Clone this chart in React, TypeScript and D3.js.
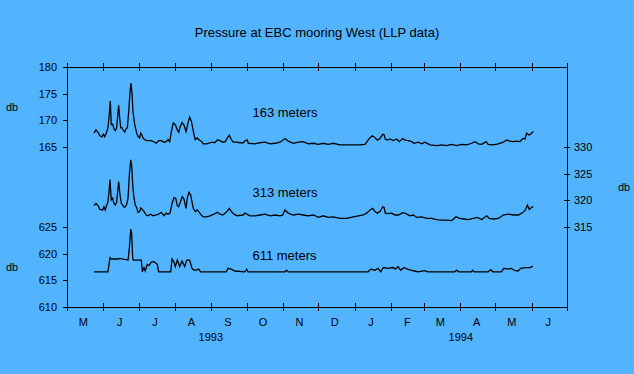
import { useEffect, useRef } from "react";
import * as d3 from "d3";

// time axis runs from 1 May 1993 to 1 Jul 1994; series x values are days since 1 May 1993
const startDate = new Date(1993, 4, 1);
const endDate = new Date(1994, 6, 1);

const title = "Pressure at EBC mooring West (LLP data)";
const seriesNames = ["163 meters", "313 meters", "611 meters"];

const leftTicksUpper = [165, 170, 175, 180];
const leftTicksLower = [610, 615, 620, 625];
const rightTicks = [315, 320, 325, 330];

// [day, db]
const series163: [number, number][] = [
  [23.0, 167.6], [24.7, 168.2], [26.4, 167.75], [28.1, 167.1], [29.8, 166.9], [30.9, 167.4], [32.1, 166.9],
  [33.5, 167.6], [34.9, 168.6], [36.0, 171.1], [36.9, 173.6], [37.7, 169.2], [38.9, 169.3], [40.0, 168.4],
  [41.2, 168.1], [42.3, 168.6], [43.2, 170.8], [44.0, 172.8], [44.9, 170.4], [45.8, 168.6], [46.9, 168.6],
  [48.0, 168.1], [49.2, 167.8], [50.3, 168.4], [51.4, 168.6], [52.6, 171.7], [53.7, 175.4], [54.5, 177.0],
  [55.4, 175.1], [56.2, 171.7], [57.7, 169.2], [59.4, 167.6], [60.5, 167.0], [61.9, 166.7], [62.8, 167.6],
  [63.9, 167.2], [65.0, 166.6], [66.7, 166.3], [69.0, 166.2], [71.8, 166.2], [74.7, 165.9], [76.1, 165.7],
  [78.1, 166.2], [80.3, 166.2], [82.6, 165.9], [84.6, 166.0], [86.1, 166.4], [87.5, 166.0], [88.9, 167.9],
  [90.6, 169.5], [92.3, 169.2], [94.0, 168.2], [95.2, 167.8], [96.3, 168.7], [98.0, 169.6], [99.7, 169.1],
  [101.4, 167.9], [103.1, 169.5], [104.5, 170.6], [105.9, 169.9], [107.1, 168.6], [108.2, 167.3], [109.3, 166.4],
  [111.0, 166.7], [112.7, 166.3], [114.4, 166.1], [116.1, 165.6], [119.0, 165.6], [121.6, 165.75], [123.5, 165.9],
  [125.8, 165.8], [128.1, 166.3], [130.4, 166.2], [132.7, 165.9], [134.9, 166.0], [136.6, 166.7], [138.3, 167.2],
  [140.0, 166.4], [141.7, 165.9], [144.6, 165.9], [147.4, 165.8], [150.2, 165.8], [151.9, 166.2], [153.6, 166.3],
  [154.5, 165.7], [160.2, 165.6], [164.4, 165.8], [168.7, 165.9], [173.0, 165.6], [177.2, 165.7], [181.5, 165.9],
  [185.8, 166.6], [188.5, 166.1], [192.8, 165.7], [197.1, 165.9], [201.3, 166.0], [205.6, 165.6], [209.9, 165.7],
  [214.1, 165.5], [218.4, 165.7], [222.6, 165.5], [226.9, 165.7], [232.6, 165.4], [238.3, 165.4], [245.4, 165.4],
  [249.6, 165.4], [253.9, 165.5], [255.9, 166.1], [258.2, 166.75], [260.1, 167.1], [262.4, 166.75], [264.4, 166.3],
  [266.7, 166.6], [269.0, 167.4], [270.1, 167.3], [271.2, 166.5], [272.9, 166.3], [275.2, 166.5], [278.0, 166.2],
  [280.9, 166.5], [283.1, 166.0], [286.0, 166.6], [288.0, 166.3], [290.8, 166.2], [293.7, 166.0], [295.6, 165.7],
  [299.3, 165.9], [302.2, 165.6], [305.0, 165.9], [309.3, 165.4], [315.0, 165.25], [319.3, 165.4], [323.5, 165.25],
  [327.8, 165.5], [332.0, 165.25], [336.3, 165.5], [340.6, 165.4], [344.8, 165.7], [347.6, 166.0], [350.4, 165.6],
  [353.3, 165.5], [357.0, 166.0], [358.9, 165.5], [363.2, 165.4], [367.5, 165.6], [371.7, 165.9], [374.6, 166.3],
  [377.4, 166.1], [380.3, 166.0], [383.1, 166.1], [385.9, 166.0], [388.3, 166.6], [390.2, 166.5], [391.6, 167.6],
  [393.4, 167.25], [395.1, 167.4], [397.3, 167.9],
];

const series313: [number, number][] = [
  [23.0, 319.0], [24.7, 319.4], [26.4, 319.0], [28.1, 318.3], [30.4, 318.2], [31.5, 318.8], [32.6, 318.2],
  [33.8, 319.1], [34.9, 319.7], [35.8, 321.6], [36.6, 323.9], [37.7, 320.1], [38.9, 320.4], [40.0, 319.4],
  [41.2, 319.1], [42.3, 319.7], [43.2, 321.6], [44.0, 323.5], [45.2, 321.0], [46.3, 319.4], [47.5, 319.1],
  [48.6, 318.7], [49.7, 318.8], [50.9, 319.3], [52.0, 320.4], [53.1, 324.75], [54.3, 327.6], [55.1, 326.6],
  [56.0, 322.9], [57.1, 320.4], [58.2, 319.1], [59.4, 318.6], [60.5, 317.75], [61.9, 317.9], [62.8, 318.6],
  [63.9, 318.4], [65.6, 317.9], [67.6, 317.25], [69.0, 317.1], [71.3, 317.4], [73.3, 317.1], [76.1, 317.25],
  [78.1, 317.4], [80.3, 317.75], [82.6, 317.1], [84.6, 317.6], [86.1, 317.4], [87.8, 317.6], [89.5, 319.4],
  [91.2, 320.5], [92.6, 320.4], [94.0, 319.0], [95.2, 318.8], [96.9, 319.9], [98.2, 320.7], [99.7, 320.25],
  [101.4, 318.5], [102.5, 320.4], [103.9, 321.5], [105.4, 321.0], [106.5, 319.7], [107.6, 318.5], [109.3, 317.9],
  [111.0, 318.2], [112.7, 317.75], [114.4, 317.25], [116.1, 316.9], [119.0, 316.9], [121.8, 317.1], [125.2, 317.4],
  [128.1, 317.75], [130.4, 317.4], [132.7, 317.25], [134.9, 317.6], [136.6, 318.0], [138.3, 318.5], [140.0, 317.9],
  [142.3, 317.4], [145.1, 317.1], [147.4, 317.2], [150.2, 317.25], [151.6, 317.6], [155.9, 317.1], [160.2, 317.1],
  [164.4, 317.25], [168.7, 317.4], [173.0, 317.1], [177.2, 317.25], [181.5, 317.1], [183.8, 317.25], [185.7, 318.2],
  [188.5, 317.6], [192.8, 317.25], [197.1, 317.4], [201.3, 317.25], [205.6, 317.1], [209.9, 317.25], [214.1, 316.8],
  [218.4, 317.1], [222.6, 316.8], [226.9, 316.9], [232.6, 316.6], [238.3, 316.6], [243.9, 316.9], [248.2, 317.1],
  [252.5, 317.25], [255.3, 317.6], [258.2, 318.2], [260.5, 318.5], [262.4, 317.9], [264.4, 317.6], [266.7, 317.9],
  [269.0, 318.8], [270.1, 318.7], [271.2, 317.6], [273.8, 317.5], [276.6, 317.6], [279.5, 317.25], [282.3, 317.25],
  [286.0, 317.7], [288.8, 317.5], [292.2, 317.1], [295.1, 317.25], [297.9, 316.8], [302.2, 316.9], [306.5, 316.6],
  [310.7, 316.6], [315.0, 316.4], [319.3, 316.3], [323.5, 316.3], [327.8, 316.2], [331.4, 316.9], [334.8, 316.6],
  [338.2, 316.5], [341.9, 316.4], [346.2, 316.6], [349.6, 316.8], [353.3, 316.4], [357.6, 317.1], [359.8, 316.6],
  [363.8, 316.5], [367.5, 316.6], [371.7, 317.25], [376.0, 317.4], [380.3, 317.25], [384.5, 317.25], [388.3, 317.7],
  [390.5, 318.2], [392.2, 319.1], [393.9, 318.3], [395.9, 318.7], [397.3, 318.8],
];

const series611: [number, number][] = [
  [23.0, 616.6], [34.9, 616.6], [36.6, 619.25], [37.7, 619.0], [43.5, 619.0], [44.9, 619.1], [52.0, 618.8],
  [53.1, 621.0], [54.3, 624.6], [55.1, 623.8], [56.0, 619.1], [56.5, 618.8], [63.3, 618.8], [64.2, 616.6],
  [65.6, 617.4], [66.7, 616.75], [68.4, 618.0], [69.9, 617.75], [71.8, 618.4], [74.1, 618.5], [76.9, 618.0],
  [78.1, 616.6], [88.4, 616.6], [89.5, 619.0], [91.2, 618.4], [92.3, 617.6], [94.0, 618.8], [96.0, 617.6],
  [98.0, 618.6], [100.3, 617.6], [102.0, 618.8], [104.5, 618.8], [106.5, 617.25], [108.2, 616.9], [110.2, 616.9],
  [112.2, 617.1], [113.9, 616.6], [135.7, 616.6], [137.2, 617.25], [140.0, 617.1], [142.9, 616.75], [151.4, 616.6],
  [153.1, 617.1], [154.2, 616.6], [185.5, 616.6], [187.2, 616.9], [188.3, 616.6], [256.5, 616.6], [258.8, 617.1],
  [262.2, 616.9], [265.0, 617.25], [267.3, 616.6], [269.5, 617.4], [273.5, 617.25], [277.8, 617.4], [279.7, 617.1],
  [282.0, 617.6], [284.3, 616.9], [287.1, 617.4], [289.9, 617.1], [292.8, 616.9], [296.2, 616.75], [299.1, 616.6],
  [304.8, 616.8], [307.6, 616.6], [330.3, 616.6], [332.0, 616.9], [333.7, 616.6], [344.5, 616.6], [345.7, 616.9],
  [346.8, 616.6], [358.7, 616.6], [361.0, 617.0], [362.9, 616.6], [370.0, 616.6], [372.3, 617.25], [375.1, 617.1],
  [378.5, 617.25], [382.0, 616.8], [384.3, 616.75], [386.6, 617.25], [390.5, 617.4], [394.2, 617.4], [397.0, 617.6],
];

const App = () => {
  const svgRef = useRef<SVGSVGElement>(null);

  useEffect(() => {
    const svg = d3.select(svgRef.current);
    svg.selectAll("*").remove();

    const width = 634;
    const height = 374;
    const margin = { top: 67, right: 67, bottom: 67, left: 67 };
    const band = (height - margin.top - margin.bottom) / 3;
    const font = "'Liberation Sans', Arial, sans-serif";
    const bottom = height - margin.bottom;

    svg.append("rect").attr("width", width).attr("height", height).attr("fill", "#52b4ff");

    const x = d3.scaleTime().domain([startDate, endDate]).range([margin.left, width - margin.right]);
    const toDate = (d: number) => new Date(startDate.getTime() + d * 864e5);

    // three stacked bands sharing the same db-per-pixel
    const y163 = d3.scaleLinear().domain([165, 180]).range([margin.top + band, margin.top]);
    const y313 = d3.scaleLinear().domain([315, 330]).range([margin.top + 2 * band, margin.top + band]);
    const y611 = d3.scaleLinear().domain([610, 625]).range([bottom, margin.top + 2 * band]);

    // frame
    svg
      .append("rect")
      .attr("x", margin.left + 0.5)
      .attr("y", margin.top + 0.5)
      .attr("width", width - margin.left - margin.right)
      .attr("height", bottom - margin.top)
      .attr("fill", "none")
      .attr("stroke", "#000")
      .attr("shape-rendering", "crispEdges");

    const styleAxis = (g: any) => {
      g.select(".domain").remove();
      g.attr("font-family", font).attr("font-size", 11).attr("shape-rendering", "crispEdges");
      g.selectAll(".tick line").attr("stroke", "#000");
      g.selectAll(".tick text").attr("fill", "#000");
    };

    // month ticks, top and bottom, crossing the frame
    const months = d3.timeMonth.range(startDate, d3.timeDay.offset(endDate, 1));
    svg
      .append("g")
      .attr("transform", `translate(0,${bottom})`)
      .call(d3.axisBottom(x).tickValues(months).tickSize(4).tickSizeOuter(0).tickFormat(() => ""))
      .call(styleAxis)
      .call((g) => g.selectAll(".tick line").attr("y1", -4));
    svg
      .append("g")
      .attr("transform", `translate(0,${margin.top})`)
      .call(d3.axisTop(x).tickValues(months).tickSize(4).tickSizeOuter(0).tickFormat(() => ""))
      .call(styleAxis)
      .call((g) => g.selectAll(".tick line").attr("y1", 4));

    // month letters at mid-month
    const mids = d3.timeMonth.range(startDate, endDate).map((m) => d3.timeDay.offset(m, 14));
    svg
      .append("g")
      .selectAll("text")
      .data(mids)
      .join("text")
      .attr("x", (d) => x(d))
      .attr("y", bottom + 19)
      .attr("text-anchor", "middle")
      .attr("font-family", font)
      .attr("font-size", 11)
      .text((d) => d3.timeFormat("%b")(d)[0]);

    // year labels centred on their span of the axis
    const newYear = new Date(1994, 0, 1);
    const years = [
      { label: "1993", from: startDate, to: newYear },
      { label: "1994", from: newYear, to: endDate },
    ];
    svg
      .append("g")
      .selectAll("text")
      .data(years)
      .join("text")
      .attr("x", (d) => (x(d.from) + x(d.to)) / 2)
      .attr("y", bottom + 34)
      .attr("text-anchor", "middle")
      .attr("font-family", font)
      .attr("font-size", 11)
      .text((d) => d.label);

    // left axis: upper and lower scales
    svg
      .append("g")
      .attr("transform", `translate(${margin.left},0)`)
      .call(d3.axisLeft(y163).tickValues(leftTicksUpper).tickSize(4).tickPadding(6))
      .call(styleAxis);
    svg
      .append("g")
      .attr("transform", `translate(${margin.left},0)`)
      .call(d3.axisLeft(y611).tickValues(leftTicksLower).tickSize(4).tickPadding(6))
      .call(styleAxis);

    // right axis for the middle series
    svg
      .append("g")
      .attr("transform", `translate(${width - margin.right},0)`)
      .call(d3.axisRight(y313).tickValues(rightTicks).tickSize(3).tickPadding(4))
      .call(styleAxis)
      .call((g) => g.selectAll(".tick line").attr("x1", -3));

    // unit labels
    const units = [
      { x: 6, y: (y163(170) + y163(175)) / 2 },
      { x: 6, y: (y611(615) + y611(620)) / 2 },
      { x: 618, y: (y313(320) + y313(325)) / 2 },
    ];
    svg
      .append("g")
      .selectAll("text")
      .data(units)
      .join("text")
      .attr("x", (d) => d.x)
      .attr("y", (d) => d.y)
      .attr("dy", "0.35em")
      .attr("font-family", font)
      .attr("font-size", 11)
      .text("db");

    // series lines
    const series = [
      { data: series163, y: y163 },
      { data: series313, y: y313 },
      { data: series611, y: y611 },
    ];
    series.forEach((s) => {
      const line = d3
        .line<[number, number]>()
        .x((d) => x(toDate(d[0])))
        .y((d) => s.y(d[1]));
      svg
        .append("path")
        .datum(s.data)
        .attr("fill", "none")
        .attr("stroke", "#000")
        .attr("stroke-width", 1.3)
        .attr("d", line);
    });

    // series labels
    const labelDay = 158;
    const labelY = [y163(170.6), y313(320.6), y611(618.8)];
    seriesNames.forEach((name, i) => {
      svg
        .append("text")
        .attr("x", x(toDate(labelDay)))
        .attr("y", labelY[i])
        .attr("font-family", font)
        .attr("font-size", 13)
        .text(name);
    });

    // title
    svg
      .append("text")
      .attr("x", width / 2)
      .attr("y", 37)
      .attr("text-anchor", "middle")
      .attr("font-family", font)
      .attr("font-size", 13)
      .text(title);
  }, []);

  return (
    <svg
      ref={svgRef}
      width={634}
      height={374}
      style={{ position: "absolute", left: 0, top: 0, display: "block" }}
    ></svg>
  );
};

export default App;
